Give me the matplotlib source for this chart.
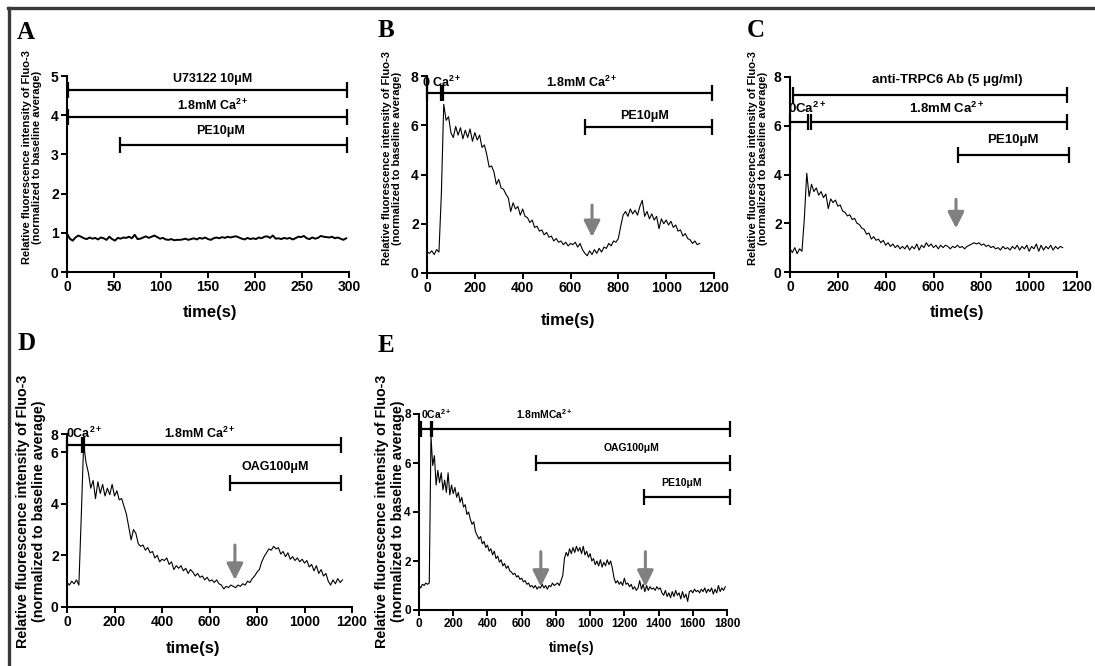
import matplotlib
matplotlib.use("Agg")
import matplotlib.pyplot as plt
import numpy as np
from matplotlib.lines import Line2D

plt.rcParams["font.family"] = ["Liberation Sans", "DejaVu Sans"]
plt.rcParams["font.weight"] = "bold"
plt.rcParams["mathtext.fontset"] = "custom"
plt.rcParams["mathtext.rm"] = "Liberation Sans:bold"
plt.rcParams["mathtext.bf"] = "Liberation Sans:bold"
plt.rcParams["mathtext.it"] = "Liberation Sans:bold"
plt.rcParams["mathtext.default"] = "bf"

W, H = 1095, 666
GREY = "#808080"
YLABEL = "Relative fluorescence intensity of Fluo-3\n(normalized to baseline average)"

# ---- data ----
A_DT = 3
A_VALS = [0.98, 0.85, 0.80, 0.88, 0.93, 0.90, 0.86, 0.84, 0.88, 0.85,
          0.87, 0.83, 0.88, 0.86, 0.82, 0.90, 0.84, 0.80, 0.87, 0.85,
          0.88, 0.87, 0.90, 0.86, 0.95, 0.84, 0.85, 0.88, 0.91, 0.87,
          0.90, 0.93, 0.89, 0.85, 0.87, 0.83, 0.82, 0.84, 0.81, 0.82,
          0.82, 0.83, 0.85, 0.82, 0.84, 0.86, 0.83, 0.87, 0.85, 0.88,
          0.84, 0.82, 0.86, 0.88, 0.86, 0.89, 0.87, 0.90, 0.88, 0.90,
          0.91, 0.88, 0.85, 0.83, 0.87, 0.84, 0.86, 0.84, 0.88, 0.86,
          0.90, 0.91, 0.87, 0.93, 0.85, 0.86, 0.84, 0.87, 0.85, 0.87,
          0.83, 0.86, 0.90, 0.89, 0.92, 0.86, 0.84, 0.88, 0.85, 0.87,
          0.92, 0.90, 0.89, 0.88, 0.90, 0.86, 0.88, 0.85, 0.82, 0.86]

B_DT = 10
B_VALS = [0.85, 0.80, 0.90, 0.75, 0.95, 0.85, 3.20, 6.85, 6.20, 6.35,
          5.70, 5.50, 5.95, 5.60, 5.90, 5.45, 5.80, 5.50, 5.85, 5.35,
          5.70, 5.40, 5.60, 5.10, 5.20, 4.80, 4.30, 4.35, 4.10, 3.60,
          3.80, 3.45, 3.40, 3.20, 3.05, 2.50, 2.85, 2.60, 2.70, 2.35,
          2.60, 2.30, 2.25, 2.05, 2.15, 1.85, 1.90, 1.70, 1.75, 1.55,
          1.65, 1.45, 1.50, 1.30, 1.40, 1.25, 1.30, 1.15, 1.25, 1.10,
          1.20, 1.15, 1.25, 1.05, 1.20, 0.95, 0.80, 0.70, 0.90, 0.75,
          0.95, 0.80, 1.00, 0.85, 1.05, 1.00, 1.20, 1.10, 1.30, 1.25,
          1.40, 1.90, 2.35, 2.50, 2.30, 2.60, 2.40, 2.55, 2.35, 2.70,
          2.95, 2.30, 2.50, 2.20, 2.40, 2.15, 2.30, 1.80, 2.20, 2.00,
          2.15, 1.95, 2.10, 1.85, 1.95, 1.70, 1.75, 1.50, 1.60, 1.40,
          1.35, 1.20, 1.30, 1.15, 1.20]

C_DT = 10
C_VALS = [0.95, 0.80, 1.00, 0.75, 0.95, 0.85, 2.20, 4.05, 3.10, 3.60,
          3.30, 3.45, 3.15, 3.30, 3.05, 3.20, 2.60, 3.00, 2.85, 2.95,
          2.70, 2.75, 2.50, 2.45, 2.30, 2.35, 2.15, 2.20, 2.00, 1.95,
          1.80, 1.75, 1.55, 1.60, 1.35, 1.45, 1.30, 1.35, 1.20, 1.30,
          1.10, 1.20, 1.05, 1.15, 1.00, 1.10, 0.95, 1.05, 0.95, 1.10,
          0.90, 1.05, 0.95, 1.15, 0.90, 1.10, 1.00, 1.20, 1.05, 1.15,
          1.00, 1.10, 0.95, 1.10, 1.00, 1.10, 1.05, 0.95, 1.05, 1.00,
          1.10, 1.00, 1.05, 0.95, 1.05, 1.10, 1.15, 1.20, 1.15, 1.20,
          1.10, 1.15, 1.05, 1.10, 1.00, 1.05, 0.95, 1.00, 0.90, 1.05,
          0.95, 1.00, 0.90, 1.05, 0.95, 1.10, 0.90, 1.05, 0.95, 1.10,
          0.85, 1.05, 0.95, 1.15, 0.85, 1.10, 0.90, 1.05, 0.95, 1.10,
          0.90, 1.05, 0.95, 1.05, 1.00]

D_DT = 10
D_VALS = [0.95, 0.85, 1.00, 0.90, 1.05, 0.85, 3.50, 6.30, 5.60, 5.20,
          4.60, 4.90, 4.20, 4.85, 4.40, 4.75, 4.30, 4.60, 4.35, 4.75,
          4.30, 4.50, 4.15, 4.20, 3.90, 3.60, 3.10, 2.60, 3.00, 2.85,
          2.45, 2.35, 2.40, 2.20, 2.30, 2.10, 2.15, 1.90, 2.00, 1.75,
          1.85, 1.80, 1.90, 1.65, 1.75, 1.45, 1.60, 1.50, 1.60, 1.40,
          1.50, 1.30, 1.45, 1.35, 1.20, 1.30, 1.15, 1.20, 1.05, 1.15,
          1.00, 1.05, 0.95, 1.05, 0.90, 0.85, 0.70, 0.80, 0.75, 0.85,
          0.80, 0.75, 0.85, 0.80, 0.90, 0.85, 1.00, 0.95, 1.10, 1.20,
          1.35, 1.45, 1.75, 1.95, 2.10, 2.25, 2.20, 2.35, 2.25, 2.30,
          2.05, 2.15, 1.95, 2.10, 1.85, 1.95, 1.80, 1.90, 1.75, 1.85,
          1.70, 1.80, 1.55, 1.65, 1.40, 1.60, 1.30, 1.45, 1.20, 1.30,
          1.00, 0.85, 1.05, 0.90, 1.10, 0.95, 1.05]

E_DT = 10
E_VALS = [1.00, 0.90, 1.05, 1.00, 1.10, 1.05, 1.10, 7.10, 5.90, 6.30,
          5.10, 5.70, 5.20, 5.60, 4.90, 5.30, 4.80, 5.60, 4.70, 5.10,
          4.75, 5.00, 4.60, 4.80, 4.40, 4.60, 4.20, 4.30, 3.90, 4.00,
          3.70, 3.50, 3.60, 3.20, 3.05, 2.90, 3.00, 2.70, 2.80, 2.55,
          2.65, 2.40, 2.50, 2.25, 2.40, 2.10, 2.20, 1.95, 2.05, 1.80,
          1.90, 1.70, 1.80, 1.60, 1.55, 1.45, 1.50, 1.35, 1.40, 1.25,
          1.30, 1.15, 1.20, 1.05, 1.10, 0.95, 1.00, 0.90, 1.00, 0.85,
          0.95, 0.90, 1.05, 0.90, 1.00, 0.85, 1.00, 0.95, 1.10, 1.00,
          1.05, 1.10, 1.00, 1.20, 1.40, 2.10, 2.35, 2.20, 2.50, 2.30,
          2.55, 2.35, 2.60, 2.40, 2.55, 2.30, 2.60, 2.25, 2.40, 2.15,
          2.30, 2.00, 2.10, 1.85, 2.00, 1.80, 2.05, 1.75, 1.95, 1.80,
          2.05, 1.85, 2.00, 1.70, 1.30, 1.10, 1.20, 1.05, 1.15, 1.00,
          1.30, 1.05, 1.10, 0.95, 1.05, 0.85, 0.95, 0.80, 0.90, 1.20,
          0.85, 1.05, 0.75, 1.00, 0.80, 0.95, 0.85, 0.90, 0.80, 0.95,
          0.85, 0.90, 0.70, 0.60, 0.80, 0.55, 0.70, 0.50, 0.75, 0.55,
          0.80, 0.60, 0.70, 0.45, 0.75, 0.50, 0.65, 0.35, 0.75, 0.80,
          0.70, 0.85, 0.75, 0.80, 0.70, 0.85, 0.75, 0.90, 0.70, 0.85,
          0.75, 0.90, 0.65, 0.85, 0.70, 1.00, 0.75, 0.90, 0.80, 0.95]

# treatment bars: (start, end, y) and their labels: (text, x, y)
A_BARS = [(1, 298, 4.64), (1, 298, 3.95), (56, 298, 3.24)]
A_LABELS = [("U73122 10μM", 155, 4.92), ("1.8mM Ca$^{2+}$", 155, 4.24), ("PE10μM", 163, 3.6)]
B_BARS = [(0, 58, 7.3), (68, 1190, 7.3), (661, 1190, 5.93)]
B_LABELS = [("0 Ca$^{2+}$", 62, 7.72), ("1.8mM Ca$^{2+}$", 648, 7.72), ("PE10μM", 911, 6.38)]
C_BARS = [(13, 1157, 7.26), (0, 75, 6.17), (88, 1157, 6.17), (701, 1167, 4.8)]
C_LABELS = [("anti-TRPC6 Ab (5 μg/ml)", 656, 7.88), ("0Ca$^{2+}$", 72, 6.72),
            ("1.8mM Ca$^{2+}$", 656, 6.72), ("PE10μM", 933, 5.42)]
D_BARS = [(0, 62, 6.28), (70, 1152, 6.28), (686, 1152, 4.8)]
D_LABELS = [("0Ca$^{2+}$", 70, 6.72), ("1.8mM Ca$^{2+}$", 560, 6.72), ("OAG100μM", 876, 5.43)]
E_BARS = [(14, 69, 7.38), (78, 1815, 7.38), (683, 1815, 5.99), (1316, 1815, 4.63)]
E_LABELS = [("0Ca$^{2+}$", 102, 7.98), ("1.8mMCa$^{2+}$", 736, 7.98),
            ("OAG100μM", 1243, 6.6), ("PE10μM", 1536, 5.2)]
# gray arrows: (x, y_from, y_to)
B_ARROWS = [(690, 2.76, 1.46)]
C_ARROWS = [(694, 2.98, 1.79)]
D_ARROWS = [(707, 2.4, 1.05)]
E_ARROWS = [(712, 2.38, 0.95), (1323, 2.38, 0.95)]


def add_axes_px(fig, left, right, top, bottom):
    return fig.add_axes([left / W, 1 - bottom / H, (right - left) / W, (bottom - top) / H])


def style(ax, fs):
    ax.spines[["top", "right"]].set_visible(False)
    for s in ("left", "bottom"):
        ax.spines[s].set_linewidth(1.5)
    ax.tick_params(direction="out", length=4, width=1.4, labelsize=fs, pad=2)
    ax.set_facecolor("none")


def draw_panel(ax, times, vals, lw, bars, labels, arrows, fs_lab):
    ax.plot(times, vals, color="black", lw=lw, clip_on=False)
    for x0, x1, y in bars:
        ax.plot([x0, x1], [y, y], color="black", lw=1.6, marker="|", ms=11, mew=1.6,
                clip_on=False, solid_capstyle="butt")
    for s, x, y in labels:
        ax.text(x, y, s, ha="center", va="center", fontsize=fs_lab, fontweight="bold", clip_on=False)
    for x, y0, y1 in arrows:
        ax.annotate("", xy=(x, y1), xytext=(x, y0),
                    arrowprops=dict(arrowstyle="-|>,head_width=0.35,head_length=0.7",
                                    color=GREY, lw=2.2, shrinkA=0, shrinkB=0, mutation_scale=14))


fig = plt.figure(figsize=(W / 100, H / 100), dpi=100)

# frame (left and top edges)
fig.add_artist(Line2D([9 / W, 9 / W], [0, 1 - 8 / H], transform=fig.transFigure, color="#3a3a3a", lw=2.4))
fig.add_artist(Line2D([8 / W, 1], [1 - 8 / H, 1 - 8 / H], transform=fig.transFigure, color="#3a3a3a", lw=2.4))

# ---- A ----
axA = add_axes_px(fig, 67, 349, 76, 272)
style(axA, 10)
draw_panel(axA, np.arange(len(A_VALS)) * A_DT, A_VALS, 1.4, A_BARS, A_LABELS, [], 9)
axA.set_xlim(0, 300)
axA.set_ylim(0, 5)
axA.set_xticks(range(0, 301, 50))
axA.set_yticks(range(0, 6))

# ---- B ----
axB = add_axes_px(fig, 427, 714, 76, 273)
style(axB, 10)
draw_panel(axB, np.arange(len(B_VALS)) * B_DT, B_VALS, 0.8, B_BARS, B_LABELS, B_ARROWS, 9)
axB.set_xlim(0, 1200)
axB.set_ylim(0, 8)
axB.set_xticks(range(0, 1201, 200))
axB.set_yticks(range(0, 9, 2))

# ---- C ----
axC = add_axes_px(fig, 790, 1077, 77, 272)
style(axC, 10)
draw_panel(axC, np.arange(len(C_VALS)) * C_DT, C_VALS, 0.8, C_BARS, C_LABELS, C_ARROWS, 9.5)
axC.set_xlim(0, 1200)
axC.set_ylim(0, 8)
axC.set_xticks(range(0, 1201, 200))
axC.set_yticks(range(0, 9, 2))

# ---- D ----
axD = add_axes_px(fig, 67, 352, 434, 607)
style(axD, 10)
draw_panel(axD, np.arange(len(D_VALS)) * D_DT, D_VALS, 0.8, D_BARS, D_LABELS, D_ARROWS, 9)
axD.set_xlim(0, 1200)
axD.set_ylim(0, 6.7)
axD.set_xticks(range(0, 1201, 200))
axD.set_yticks([0, 2, 4, 6, 6.7], ["0", "2", "4", "6", "8"])

# ---- E ----
axE = add_axes_px(fig, 419, 727, 414, 610)
style(axE, 8.5)
draw_panel(axE, np.arange(len(E_VALS)) * E_DT, E_VALS, 0.8, E_BARS, E_LABELS, E_ARROWS, 7.5)
axE.set_xlim(0, 1800)
axE.set_ylim(0, 8)
axE.set_xticks(range(0, 1801, 200))
axE.set_yticks(range(0, 9, 2))

# axis titles and panel letters (figure pixel positions)
for x, y, fs in [(32, 157, 8), (392, 158, 8), (758, 158, 8), (31, 511, 10.3), (390, 511, 10.3)]:
    fig.text(x / W, 1 - y / H, YLABEL, rotation=90, ha="center", va="center",
             fontsize=fs, fontweight="bold", multialignment="center", linespacing=1.1)
for x, y, fs in [(210, 313, 12), (568, 320, 12), (957, 312, 12), (193, 648, 12), (572, 648, 10)]:
    fig.text(x / W, 1 - y / H, "time(s)", ha="center", va="center", fontsize=fs, fontweight="bold")
for s, x, y in [("A", 17, 39), ("B", 378, 37), ("C", 747, 37), ("D", 18, 350), ("E", 378, 352)]:
    fig.text(x / W, 1 - y / H, s, ha="left", va="baseline", fontsize=18,
             family="Liberation Serif", fontweight="bold")

fig.savefig("out.png", dpi=100, facecolor="white")
